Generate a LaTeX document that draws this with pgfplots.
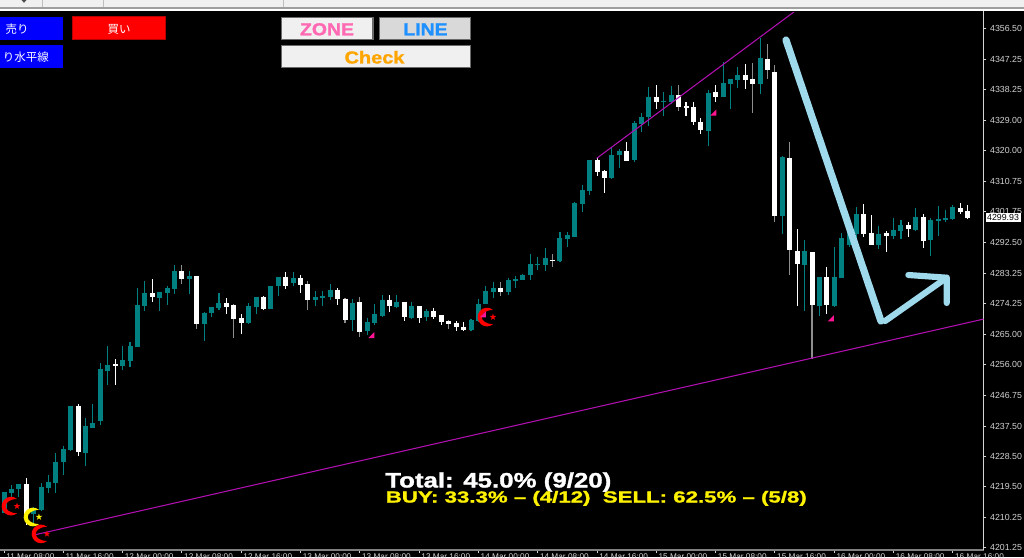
\documentclass[border=0pt]{standalone}
\usepackage{fontspec}
\usepackage{graphicx}
\usepackage{pgfplots}
\usepackage{pgfplotstable}
\pgfplotsset{compat=1.18}
\setmainfont{Liberation Sans}
\newfontfamily\jp{Noto Sans CJK JP}
\newfontfamily\heavy[FakeBold=1.3]{Liberation Sans Bold}

\definecolor{upc}{HTML}{008080}
\definecolor{graywick}{HTML}{8E8E8E}
\definecolor{trend}{HTML}{B010B0}
\definecolor{pen}{HTML}{9FD9EC}
\definecolor{flag}{HTML}{FF1493}
\definecolor{labelc}{HTML}{D4D4D4}
\definecolor{btnedge}{HTML}{6A6A6A}
\definecolor{HotPink}{HTML}{FF69B4}
\definecolor{DodgerBlue}{HTML}{1E90FF}
\definecolor{Orange}{HTML}{FFA500}

% columns: bar index, high, body top, body bottom, low
\pgfplotstableread{
i h t b l
0 4217.9 4217.9 4211.7 4211.7
1 4220.0 4218.9 4217.5 4216.4
2 4220.3 4220.3 4218.7 4216.4
4 4213.5 4212.4 4211.2 4208.2
5 4220.5 4219.5 4212.5 4212.2
6 4223.1 4220.9 4219.2 4217.6
7 4229.5 4227.0 4220.6 4217.6
8 4231.6 4230.8 4226.8 4223.1
9 4243.7 4243.7 4230.5 4230.2
11 4240.0 4237.6 4229.6 4225.7
12 4244.2 4238.6 4237.0 4237.0
13 4256.5 4254.8 4239.2 4238.0
14 4261.5 4255.9 4254.0 4250.0
16 4261.5 4257.3 4255.7 4254.4
17 4262.8 4261.5 4257.1 4255.2
18 4279.0 4273.7 4261.2 4261.2
19 4280.9 4277.3 4273.5 4272.1
21 4277.8 4277.8 4275.9 4272.1
22 4279.5 4278.8 4277.3 4273.7
23 4285.9 4284.0 4278.5 4277.1
25 4284.0 4282.6 4281.5 4277.1
27 4271.7 4271.5 4268.0 4263.0
28 4273.1 4273.1 4271.3 4270.2
29 4277.5 4274.3 4272.8 4272.2
33 4274.5 4273.4 4268.5 4268.2
34 4276.2 4276.2 4273.2 4271.2
36 4279.5 4279.5 4272.5 4272.5
37 4282.3 4282.3 4279.4 4276.4
39 4283.7 4281.8 4280.3 4279.4
42 4277.9 4276.2 4275.2 4273.4
43 4278.1 4276.6 4276.0 4273.4
44 4280.2 4278.4 4276.3 4275.4
47 4275.7 4274.3 4269.2 4265.9
49 4269.9 4268.7 4265.9 4264.7
50 4274.0 4271.0 4268.4 4267.7
51 4276.7 4275.4 4270.6 4270.1
53 4276.8 4274.6 4273.3 4272.8
55 4274.8 4273.4 4270.0 4269.5
57 4272.6 4272.1 4270.1 4268.9
63 4269.6 4269.2 4266.3 4266.0
64 4275.7 4274.2 4269.0 4268.7
65 4279.4 4277.9 4274.1 4274.0
66 4280.7 4279.0 4277.6 4276.0
68 4282.0 4281.2 4277.6 4276.8
69 4282.6 4281.5 4281.0 4279.0
70 4283.2 4282.9 4281.3 4281.2
71 4289.0 4286.0 4282.7 4281.2
72 4288.2 4286.1 4285.7 4284.2
73 4290.7 4287.7 4285.7 4284.0
75 4295.7 4293.8 4286.9 4286.8
76 4295.7 4294.6 4293.5 4291.0
77 4304.5 4304.2 4294.2 4294.2
78 4309.6 4308.2 4303.9 4301.6
79 4317.2 4317.2 4307.9 4306.8
82 4320.7 4318.5 4311.8 4311.4
83 4320.4 4319.9 4318.5 4314.6
85 4328.9 4328.3 4317.1 4316.6
86 4331.2 4330.1 4327.9 4325.4
87 4339.0 4336.0 4330.0 4327.2
89 4337.4 4334.9 4334.4 4330.2
90 4339.4 4336.6 4334.5 4334.0
95 4338.1 4337.3 4325.8 4321.2
97 4346.5 4340.2 4336.0 4336.0
98 4341.4 4341.3 4340.0 4332.4
99 4345.0 4342.4 4341.0 4338.6
102 4353.7 4347.7 4340.0 4336.9
105 4318.4 4318.0 4300.5 4295.1
108 4293.2 4289.9 4285.7 4272.0
110 4282.1 4282.1 4273.4 4270.4
112 4291.0 4282.1 4273.4 4273.2
113 4295.3 4293.8 4281.8 4281.8
114 4297.7 4296.2 4291.7 4291.2
115 4303.0 4301.0 4295.0 4293.2
118 4297.4 4294.9 4291.7 4290.4
120 4299.8 4296.2 4294.3 4293.5
121 4299.1 4297.6 4296.0 4293.5
123 4302.9 4300.1 4296.2 4296.0
125 4299.8 4299.1 4293.2 4288.5
126 4303.3 4299.6 4298.8 4294.4
127 4302.2 4299.8 4299.3 4298.7
128 4303.6 4303.0 4299.6 4299.2
}\upbars

% white candles, white wick
\pgfplotstableread{
i h t b l
3 4222.2 4220.3 4211.2 4208.2
10 4244.2 4243.7 4229.9 4228.7
15 4257.7 4256.2 4255.7 4249.8
20 4281.7 4277.3 4276.1 4274.6
30 4276.0 4274.3 4273.2 4271.2
32 4271.2 4269.8 4268.5 4265.1
35 4276.4 4276.2 4272.6 4272.4
38 4283.8 4282.3 4279.6 4278.5
40 4282.9 4281.8 4279.8 4277.4
45 4279.0 4278.4 4275.5 4273.7
52 4276.9 4275.4 4273.4 4271.7
54 4274.8 4274.8 4270.1 4268.9
56 4273.4 4273.4 4269.8 4268.4
58 4272.9 4272.1 4270.3 4269.6
59 4270.7 4270.7 4268.7 4267.8
61 4268.9 4268.5 4267.1 4265.9
62 4268.7 4267.3 4266.3 4266.1
80 4317.7 4317.2 4313.5 4312.4
81 4314.2 4313.8 4311.9 4307.4
84 4322.4 4319.9 4316.8 4316.8
88 4339.7 4336.0 4334.4 4332.4
92 4334.6 4333.2 4332.7 4330.2
93 4334.6 4332.9 4328.5 4327.7
94 4329.8 4328.5 4326.0 4324.9
96 4339.6 4337.4 4336.0 4334.6
100 4345.9 4342.6 4340.9 4338.5
107 4296.5 4289.9 4286.2 4273.5
111 4285.1 4282.1 4273.7 4271.0
116 4303.9 4301.0 4295.0 4294.0
117 4300.7 4295.4 4291.7 4291.7
119 4295.8 4295.3 4294.4 4289.7
122 4298.5 4297.6 4296.5 4294.0
124 4300.9 4300.2 4292.9 4290.9
129 4304.3 4302.8 4301.6 4301.1
130 4303.8 4301.8 4299.9 4299.6
}\downbars

% white candles whose wick shows grey in the screenshot
\pgfplotstableread{
i h t b l
24 4285.7 4284.0 4281.6 4280.2
26 4282.6 4282.6 4268.0 4266.5
31 4274.2 4273.7 4269.6 4264.0
41 4281.1 4280.1 4275.4 4272.4
46 4275.9 4275.7 4269.2 4268.4
48 4276.3 4274.6 4265.6 4264.2
60 4269.4 4268.9 4268.2 4266.5
67 4280.8 4279.0 4277.6 4276.5
74 4289.0 4287.4 4287.1 4285.1
91 4339.6 4336.5 4332.9 4331.9
101 4346.0 4341.2 4340.0 4331.1
103 4351.8 4347.4 4343.9 4341.2
104 4345.4 4343.5 4300.5 4298.5
106 4322.4 4317.6 4290.2 4282.9
109 4289.6 4289.6 4273.7 4257.7
}\downbarsgrey

% crescent opening to the right with a small star beside it
\pgfdeclareplotmark{crescent}{%
  \pgfpathmoveto{\pgfqpoint{4.5pt}{5.36pt}}%
  \pgfpatharc{50}{310}{7pt}%
  \pgfpathcurveto{\pgfqpoint{-6.75pt}{-4.9pt}}{\pgfqpoint{-6.75pt}{4.9pt}}{\pgfqpoint{4.5pt}{5.36pt}}%
  \pgfpathclose
  \pgfpathmoveto{\pgfqpoint{4.5pt}{2.6pt}}%
  \pgfpathlineto{\pgfqpoint{5.09pt}{0.81pt}}%
  \pgfpathlineto{\pgfqpoint{6.97pt}{0.8pt}}%
  \pgfpathlineto{\pgfqpoint{5.45pt}{-0.31pt}}%
  \pgfpathlineto{\pgfqpoint{6.03pt}{-2.1pt}}%
  \pgfpathlineto{\pgfqpoint{4.5pt}{-1pt}}%
  \pgfpathlineto{\pgfqpoint{2.97pt}{-2.1pt}}%
  \pgfpathlineto{\pgfqpoint{3.55pt}{-0.31pt}}%
  \pgfpathlineto{\pgfqpoint{2.03pt}{0.8pt}}%
  \pgfpathlineto{\pgfqpoint{3.91pt}{0.81pt}}%
  \pgfpathclose
  \pgfusepathqfill
}
\pgfdeclareplotmark{flagmark}{%
  \pgfpathmoveto{\pgfqpoint{-2.3pt}{-2.3pt}}%
  \pgfpathlineto{\pgfqpoint{2.3pt}{-2.3pt}}%
  \pgfpathlineto{\pgfqpoint{2.3pt}{2.3pt}}%
  \pgfpathclose
  \pgfusepathqfill
}

\pgfplotsset{
  wick/.style={draw=none, no markers, forget plot,
    error bars/.cd, y dir=both, y explicit, error mark=none,
    error bar style={solid, draw=#1, line width=0.8pt}},
  body/.style={draw=none, no markers, forget plot,
    error bars/.cd, y dir=minus, y explicit, error mark=none,
    error bar style={solid, draw=#1, line width=3.75pt}},
}
\newcommand{\candles}[3]{%
  \addplot[wick=#2] table[x=i, y=t, y error plus expr=\thisrow{h}-\thisrow{t}, y error minus expr=\thisrow{t}-\thisrow{l}] {#1};
  \addplot[body=#3] table[x=i, y=t, y error minus expr=\thisrow{t}-\thisrow{b}] {#1};
}

\begin{document}
\begin{tikzpicture}
\path[use as bounding box, fill=black] (0,0) rectangle (768pt,417.75pt);
\begin{axis}[
    at={(0pt,5.25pt)}, anchor=south west,
    scale only axis,
    width=737.78pt, height=404.25pt,
    xmin=-0.54, xmax=132.16,
    ymin=4200.58, ymax=4361.67,
    axis y line*=right, axis x line*=bottom,
    axis line style={-},
    tick align=outside,
    major tick length=2pt,
    y axis line style={draw=labelc, line width=0.8pt},
    x axis line style={draw=gray, line width=1.5pt},
    tick style={draw=labelc, line width=0.7pt},
    ytick={4356.5,4347.25,4338.25,4329,4320,4310.75,4301.75,4292.5,4283.25,4274.25,4265,4256,4246.75,4237.5,4228.5,4219.5,4210.25,4201.25},
    yticklabel style={font=\fontsize{6.6}{7}\selectfont, text=labelc, inner sep=0pt, xshift=2.6pt,
      /pgf/number format/.cd, fixed, fixed zerofill, precision=2, 1000 sep={}, assume math mode=true},
    xtick={0,8,...,128},
    xticklabels={11 Mar 08:00,11 Mar 16:00,12 Mar 00:00,12 Mar 08:00,12 Mar 16:00,13 Mar 00:00,13 Mar 08:00,13 Mar 16:00,14 Mar 00:00,14 Mar 08:00,14 Mar 16:00,15 Mar 00:00,15 Mar 08:00,15 Mar 16:00,16 Mar 00:00,16 Mar 08:00,16 Mar 16:00},
    xticklabel style={font=\fontsize{6.2}{7}\selectfont, text=labelc, anchor=north west, inner sep=0pt, xshift=1.5pt, yshift=-0.9pt},
  ]
  \candles{\upbars}{upc}{upc}
  \candles{\downbars}{white}{white}
  \candles{\downbarsgrey}{graywick}{white}

  % trend lines
  \addplot[trend, line width=0.8pt, forget plot] coordinates {(4.32,4205.2) (132.16,4269.6)};
  \addplot[trend, line width=0.8pt, forget plot] coordinates {(79.95,4317.65) (106.57,4361.4)};

  % signal marks
  \addplot[only marks, mark=crescent, mark options={fill=red, draw=red}, color=red, forget plot]
    coordinates {(0.94,4213.7) (4.99,4205.4) (65.15,4270.2)};
  \addplot[only marks, mark=crescent, mark options={fill=yellow, draw=yellow}, color=yellow, forget plot]
    coordinates {(3.91,4210.45)};
  \addplot[only marks, mark=flagmark, mark options={fill=flag, draw=flag}, color=flag, forget plot]
    coordinates {(49.55,4264.8) (64.59,4271.0) (95.67,4331.3) (111.53,4269.8)};

  % hand drawn arrow
  \addplot[pen, line width=5.4pt, line cap=round, line join=round, forget plot]
    coordinates {(105.49,4353.0) (118.3,4269.0)};
  \addplot[pen, line width=4.6pt, line cap=round, line join=round, forget plot]
    coordinates {(118.85,4269.0) (127.17,4281.96)};
  \addplot[pen, line width=4.6pt, line cap=round, line join=round, forget plot]
    coordinates {(121.99,4282.77) (127.17,4281.96) (127.17,4274.4)};
\end{axis}

% panel furniture, coordinates in screenshot pixels
\begin{scope}[shift={(0pt,417.75pt)}, x=0.75pt, y=-0.75pt]
  \fill[white!94!black] (0,0) rectangle (1024,8);
  \fill[white!62!black] (0,7.4) rectangle (1024,8.6);
  \fill[white] (0,8.6) rectangle (1024,11);
  \draw[white!75!black, line width=0.5pt] (42,0) -- (42,7) (103,0) -- (103,7) (283,0) -- (283,7);
  \fill[black!70] (21.5,0) -- (26.5,0) -- (24,2.8) -- cycle;
  \fill[black] (0,11) rectangle (983,11.6);

  \fill[blue] (-1,17) rectangle (63,40);
  \fill[blue] (-1,45) rectangle (63,68);
  \fill[red!72!black] (72,16.5) rectangle (165.5,40);
  \fill[red] (72.8,17.5) rectangle (165,39.5);
  \node[text=white, font=\jp\fontsize{8.6}{10}\selectfont, inner sep=0pt] at (17,29) {売り};
  \node[text=white, font=\jp\fontsize{8.6}{10}\selectfont, inner sep=0pt] at (119,29) {買い};
  \node[text=white, font=\jp\fontsize{8.6}{10}\selectfont, inner sep=0pt, anchor=east] at (49,57) {り水平線};

  \draw[btnedge, fill=white!94!black, line width=1pt] (281.5,17.5) rectangle (373,39.5);
  \draw[btnedge, fill=white!85!black, line width=1pt] (379.5,17.5) rectangle (470.5,39.5);
  \draw[btnedge, fill=white!94!black, line width=1pt] (281.5,45.5) rectangle (470.5,67.5);
  \node[text=HotPink, font=\heavy\fontsize{13}{14}\selectfont, inner sep=0pt] at (327,29.3) {\scalebox{1.12}[1]{ZONE}};
  \node[text=DodgerBlue, font=\heavy\fontsize{13}{14}\selectfont, inner sep=0pt] at (425.5,29.3) {\scalebox{1.12}[1]{LINE}};
  \node[text=Orange, font=\heavy\fontsize{13}{14}\selectfont, inner sep=0pt] at (374.5,57.3) {\scalebox{1.15}[1]{Check}};

  % current price box
  \fill[white] (985.5,213.3) rectangle (1020.5,221.7);
  \node[text=black, font=\fontsize{6.6}{7}\selectfont, inner sep=0pt] at (1003,217.6) {4299.93};

  \node[text=white, anchor=base west, inner sep=0pt, font=\heavy\fontsize{15.7}{16}\selectfont] at (385,487.5) {\scalebox{1.235}[1]{Total: 45.0\% (9/20)}};
  \node[text=yellow, anchor=base west, inner sep=0pt, font=\heavy\fontsize{12}{13}\selectfont] at (385.5,502.5) {\scalebox{1.39}[1]{BUY: 33.3\% – (4/12)\ \ SELL: 62.5\% – (5/8)}};
\end{scope}
\end{tikzpicture}
\end{document}
